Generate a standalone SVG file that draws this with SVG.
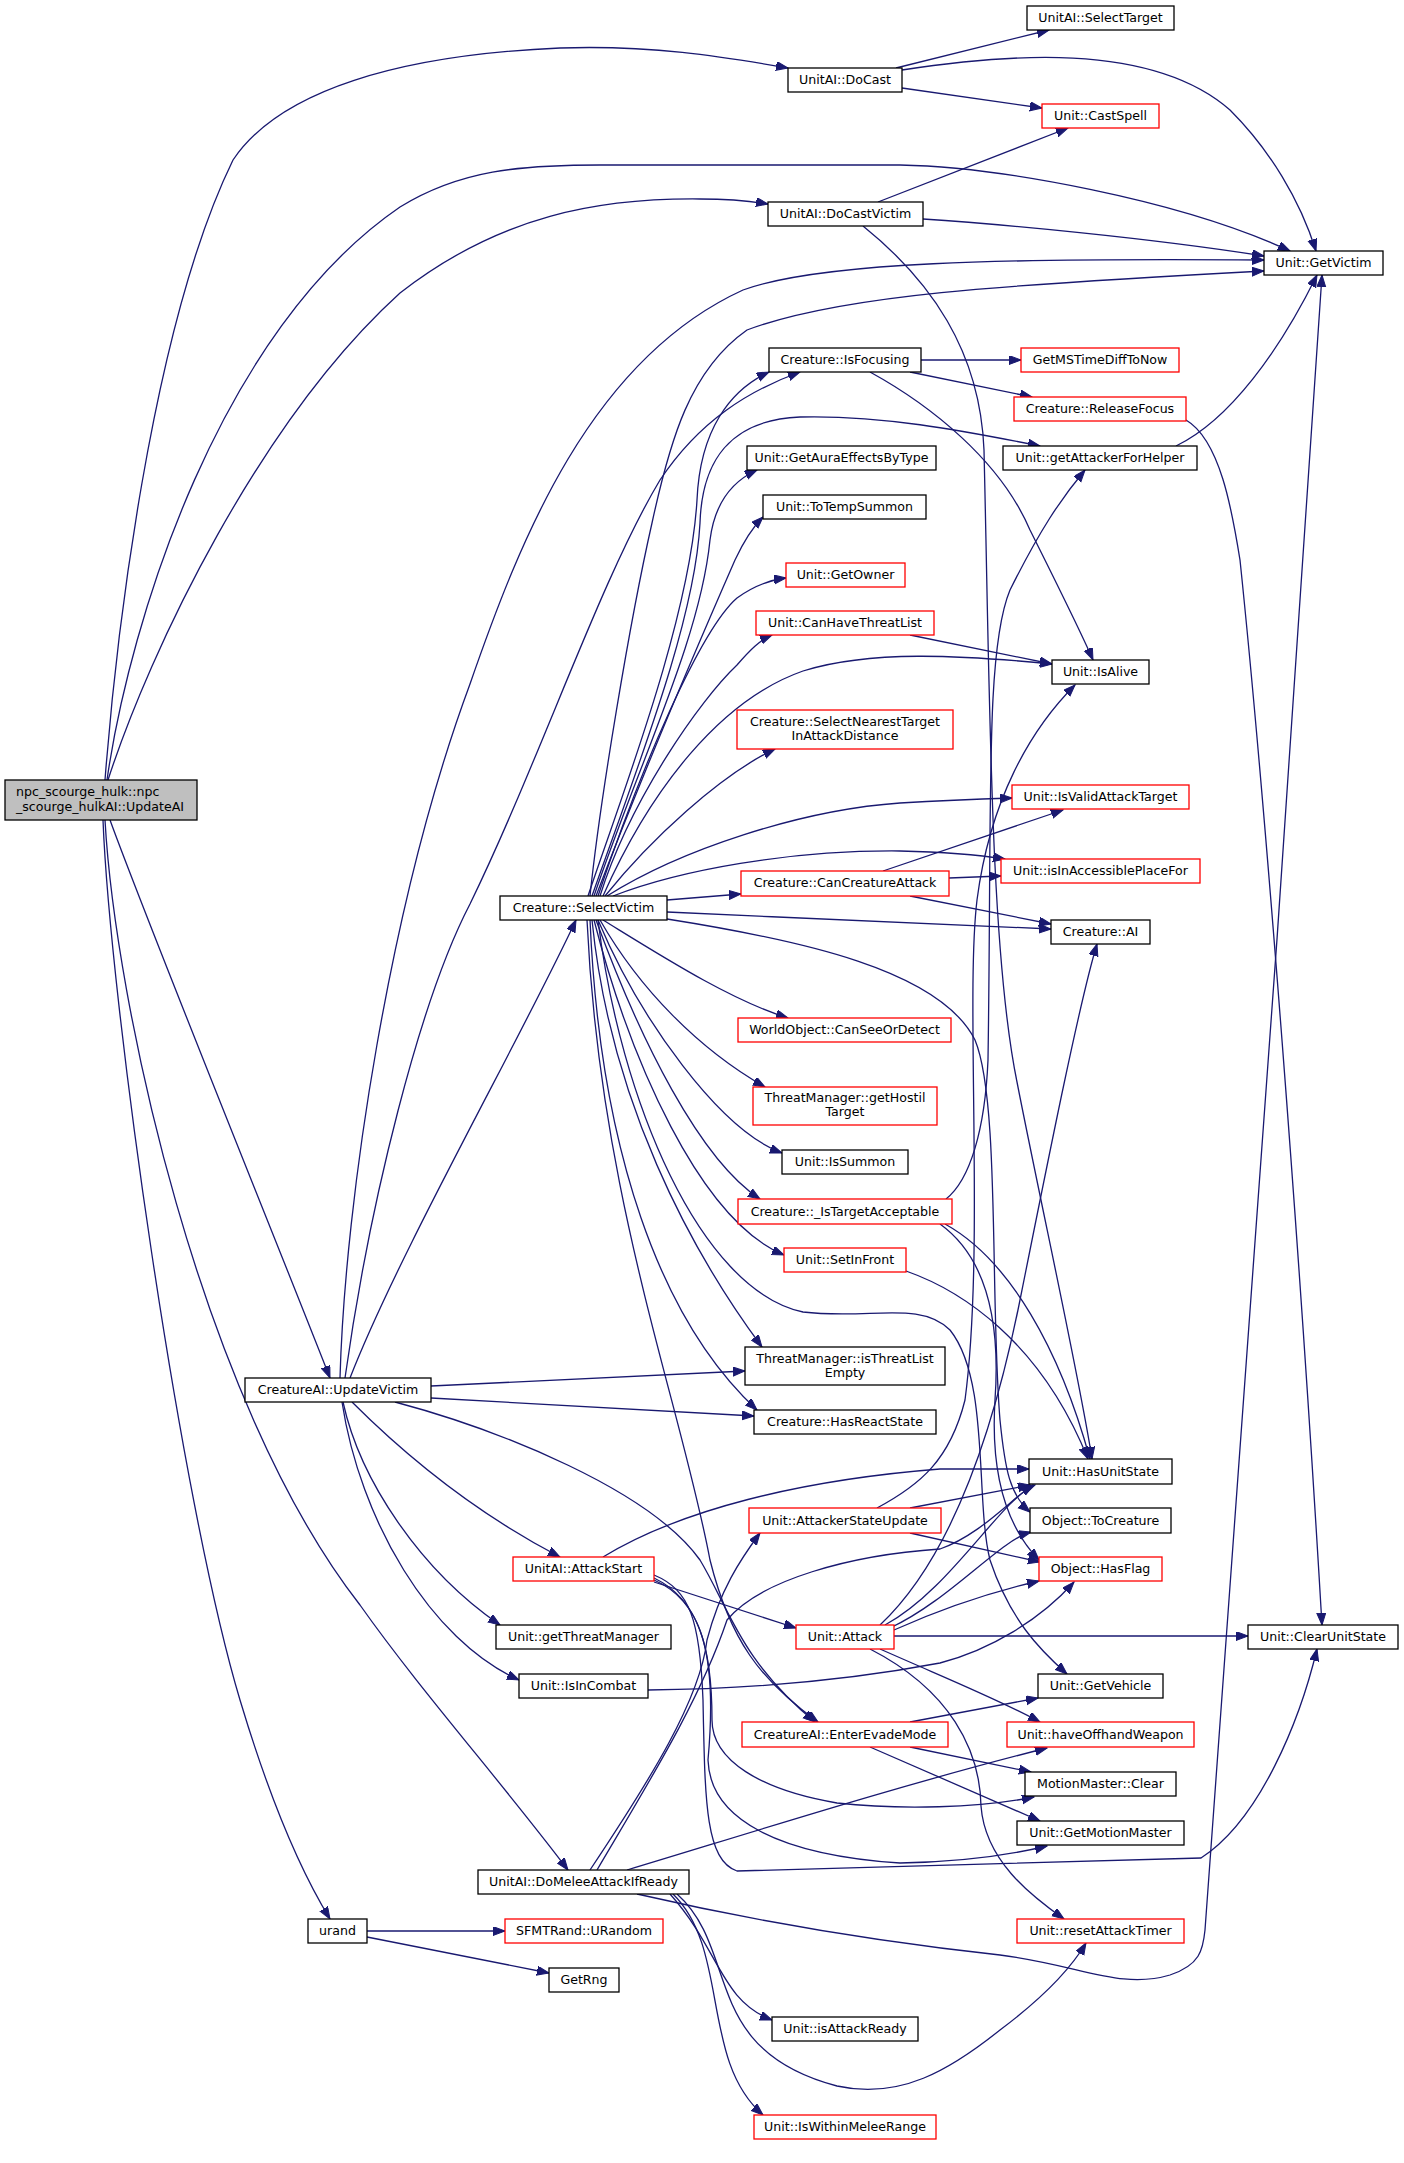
<svg xmlns="http://www.w3.org/2000/svg" width="1404" height="2163" viewBox="0 0 1404 2163">
<style>
.n rect{fill:#fff;stroke:#000;stroke-width:1.3}
.n.r rect{stroke:#ff0000}
.n text{font-family:"DejaVu Sans","Liberation Sans",sans-serif;font-size:12.6px;text-anchor:middle;fill:#000}
#edges path{fill:none;stroke:#191970;stroke-width:1.3;marker-end:url(#ah)}
</style>
<defs>
<marker id="ah" markerWidth="13" markerHeight="10" refX="12" refY="4.5" orient="auto" markerUnits="userSpaceOnUse"><path d="M0,0 L12,4.5 L0,9 z" fill="#191970" stroke="#191970" stroke-width="1"/></marker>
</defs>
<rect width="1404" height="2163" fill="#fff"/>
<g id="edges">
<path d="M105,780 C115,650 150,330 233,160 C280,90 400,55 560,48 C650,45 720,56 788,68"/>
<path d="M107,780 C130,620 220,330 400,207 C460,170 520,165 600,165 L900,165 C1000,167 1180,200 1290,251"/>
<path d="M108,780 C150,650 260,420 400,293 C500,215 600,198 700,199 C730,199 750,201 768,204"/>
<path d="M110,820 C150,930 280,1250 330,1378"/>
<path d="M105,820 C115,1000 200,1400 360,1605 C420,1690 500,1780 568,1870"/>
<path d="M103,820 C110,1000 180,1500 240,1700 C270,1800 300,1870 330,1919"/>
<path d="M896,68 L1049,30"/>
<path d="M902,70 C1000,55 1150,40 1230,110 C1270,150 1300,200 1316,251"/>
<path d="M902,88 L1042,108"/>
<path d="M878,202 L1068,128"/>
<path d="M923,219 C1000,224 1150,238 1264,256"/>
<path d="M863,226 C930,280 980,350 984,450 C990,700 990,950 1017,1082 C1040,1200 1080,1380 1092,1459"/>
<path d="M921,360 L1021,360"/>
<path d="M910,372 C950,380 990,388 1032,397"/>
<path d="M870,372 C930,405 1000,460 1030,530 C1055,580 1080,630 1093,660"/>
<path d="M1186,420 C1220,440 1232,510 1240,560 C1265,800 1300,1250 1322,1625"/>
<path d="M1176,446 C1230,420 1280,350 1317,275"/>
<path d="M340,1378 C345,1200 390,900 470,684 C520,540 590,360 743,290 C820,262 1000,258 1264,260"/>
<path d="M345,1378 C370,1200 420,1000 470,904 C540,760 600,580 660,480 C700,420 750,390 800,372"/>
<path d="M350,1378 C400,1250 520,1040 576,920"/>
<path d="M431,1386 L745,1371"/>
<path d="M431,1398 L754,1416"/>
<path d="M352,1402 C400,1450 470,1510 560,1557"/>
<path d="M343,1402 C360,1480 420,1570 500,1625"/>
<path d="M342,1402 C360,1520 430,1640 519,1680"/>
<path d="M395,1402 C500,1430 650,1490 700,1560 C730,1610 740,1660 815,1722"/>
<path d="M588,896 C620,800 690,620 697,500 C700,430 730,390 769,372"/>
<path d="M590,896 C600,800 630,620 652,523 C670,440 690,370 747,330 C840,295 1000,285 1264,271"/>
<path d="M592,896 C640,760 695,620 700,523 C702,460 730,420 800,417 C880,415 960,430 1040,446"/>
<path d="M594,896 C640,760 700,640 710,540 C715,500 735,480 757,470"/>
<path d="M596,896 C640,780 700,640 735,560 C742,545 750,530 763,517"/>
<path d="M598,896 C640,770 700,630 737,598 C755,585 770,580 786,578"/>
<path d="M600,896 C630,800 700,700 737,665 C750,650 760,640 772,635"/>
<path d="M603,896 C650,790 720,700 803,671 C870,650 960,655 1052,664"/>
<path d="M910,635 L1052,664"/>
<path d="M605,896 C650,840 720,775 775,749"/>
<path d="M607,896 C680,850 800,810 900,803 C950,800 980,799 1012,798"/>
<path d="M613,896 C680,870 790,850 900,851 C950,852 980,855 1005,859"/>
<path d="M883,871 L1063,810"/>
<path d="M949,878 L1001,876"/>
<path d="M910,896 L1051,924"/>
<path d="M667,900 L741,894"/>
<path d="M667,912 C800,918 950,925 1051,929"/>
<path d="M667,919 C800,940 940,970 975,1040 C1000,1100 990,1300 1000,1420 C1005,1470 1010,1495 1030,1512"/>
<path d="M603,920 C660,955 730,1000 788,1018"/>
<path d="M600,920 C640,990 700,1050 765,1087"/>
<path d="M598,920 C640,1020 720,1130 782,1153"/>
<path d="M596,920 C640,1040 700,1160 760,1199"/>
<path d="M594,920 C630,1060 700,1220 784,1255"/>
<path d="M592,920 C610,1100 690,1250 762,1347"/>
<path d="M590,920 C600,1150 660,1320 757,1410"/>
<path d="M587,920 C600,1200 680,1400 710,1560 C730,1640 760,1680 818,1722"/>
<path d="M598,920 C620,1100 700,1290 803,1312 C870,1320 920,1300 950,1330 C990,1380 975,1500 990,1560 C1010,1620 1040,1650 1067,1674"/>
<path d="M946,1199 C970,1180 985,1130 988,1060 C992,800 985,650 1010,590 C1040,530 1060,500 1085,470"/>
<path d="M945,1224 C1010,1260 1060,1350 1090,1459"/>
<path d="M940,1224 C990,1260 1000,1330 995,1400 C990,1480 1010,1530 1039,1560"/>
<path d="M906,1271 C960,1290 1040,1340 1088,1459"/>
<path d="M877,1508 C920,1485 950,1460 965,1400 C985,1250 965,1000 977,900 C990,800 1030,730 1075,685"/>
<path d="M910,1508 L1030,1485"/>
<path d="M910,1533 L1040,1562"/>
<path d="M603,1557 C680,1510 800,1480 940,1469 L1029,1469"/>
<path d="M654,1582 L796,1628"/>
<path d="M654,1575 C690,1590 700,1620 703,1700 C705,1800 705,1860 737,1871 L1201,1858 C1260,1820 1300,1720 1317,1649"/>
<path d="M654,1578 C700,1600 712,1650 712,1720 C712,1760 760,1790 837,1803 C900,1810 980,1808 1034,1797"/>
<path d="M654,1580 C700,1600 718,1650 708,1760 C710,1820 780,1855 900,1863 C960,1862 1010,1855 1047,1846"/>
<path d="M885,1625 C950,1590 1000,1500 1035,1485"/>
<path d="M890,1628 C950,1600 1000,1540 1031,1532"/>
<path d="M894,1630 C950,1605 1000,1590 1039,1581"/>
<path d="M894,1636 L1248,1636"/>
<path d="M880,1625 C960,1550 1000,1400 1020,1300 C1050,1150 1080,1000 1097,944"/>
<path d="M880,1649 C950,1680 1000,1700 1040,1722"/>
<path d="M870,1649 C950,1690 980,1750 981,1806 C985,1860 1030,1895 1064,1919"/>
<path d="M648,1690 C750,1689 850,1680 940,1663 C990,1650 1040,1620 1074,1582"/>
<path d="M910,1722 L1038,1698"/>
<path d="M910,1747 L1031,1772"/>
<path d="M870,1747 L1040,1821"/>
<path d="M590,1870 C650,1780 700,1700 707,1640 C720,1590 740,1560 760,1533"/>
<path d="M597,1870 C650,1780 700,1700 727,1620 C760,1580 850,1555 940,1549 C980,1535 1010,1500 1033,1485"/>
<path d="M627,1870 C750,1833 900,1785 1047,1748"/>
<path d="M637,1894 C750,1920 880,1942 1000,1955 C1080,1965 1120,1990 1170,1975 C1200,1965 1203,1950 1205,1930 C1220,1700 1290,800 1322,275"/>
<path d="M670,1894 C720,1950 720,2000 772,2020"/>
<path d="M673,1894 C730,1950 700,2060 763,2115"/>
<path d="M677,1894 C740,1950 700,2050 837,2086 C900,2100 950,2070 1000,2030 C1040,2000 1070,1970 1086,1943"/>
<path d="M367,1931 L505,1931"/>
<path d="M367,1937 L549,1973"/>
</g>
<g id="n_updateai" class="n"><rect x="5" y="780" width="192" height="40" style="fill:#bfbfbf"/><text x="16" y="796" style="text-anchor:start">npc_scourge_hulk::npc</text><text x="16" y="811" style="text-anchor:start">_scourge_hulkAI::UpdateAI</text></g>
<g id="n_docast" class="n"><rect x="788" y="68" width="114" height="24"/><text x="845" y="84">UnitAI::DoCast</text></g>
<g id="n_selecttarget" class="n"><rect x="1027" y="6" width="147" height="24"/><text x="1100.5" y="22">UnitAI::SelectTarget</text></g>
<g id="n_castspell" class="n r"><rect x="1042" y="104" width="117" height="24"/><text x="1100.5" y="120">Unit::CastSpell</text></g>
<g id="n_getvictim" class="n"><rect x="1264" y="251" width="119" height="24"/><text x="1323.5" y="267">Unit::GetVictim</text></g>
<g id="n_docastvictim" class="n"><rect x="768" y="202" width="155" height="24"/><text x="845.5" y="218">UnitAI::DoCastVictim</text></g>
<g id="n_isfocusing" class="n"><rect x="769" y="348" width="152" height="24"/><text x="845" y="364">Creature::IsFocusing</text></g>
<g id="n_getmstime" class="n r"><rect x="1021" y="348" width="158" height="24"/><text x="1100" y="364">GetMSTimeDiffToNow</text></g>
<g id="n_releasefocus" class="n r"><rect x="1014" y="397" width="172" height="24"/><text x="1100" y="413">Creature::ReleaseFocus</text></g>
<g id="n_getattackerforhelper" class="n"><rect x="1003" y="446" width="194" height="24"/><text x="1100" y="462">Unit::getAttackerForHelper</text></g>
<g id="n_getauraeffects" class="n"><rect x="747" y="446" width="189" height="24"/><text x="841.5" y="462">Unit::GetAuraEffectsByType</text></g>
<g id="n_totempsummon" class="n"><rect x="763" y="495" width="163" height="24"/><text x="844.5" y="511">Unit::ToTempSummon</text></g>
<g id="n_getowner" class="n r"><rect x="786" y="563" width="119" height="24"/><text x="845.5" y="579">Unit::GetOwner</text></g>
<g id="n_canhavethreatlist" class="n r"><rect x="756" y="611" width="178" height="24"/><text x="845" y="627">Unit::CanHaveThreatList</text></g>
<g id="n_isalive" class="n"><rect x="1052" y="660" width="97" height="24"/><text x="1100.5" y="676">Unit::IsAlive</text></g>
<g id="n_selectnearest" class="n r"><rect x="737" y="710" width="216" height="39"/><text x="845" y="725.5">Creature::SelectNearestTarget</text><text x="845" y="740">InAttackDistance</text></g>
<g id="n_isvalidattacktarget" class="n r"><rect x="1012" y="785" width="177" height="24"/><text x="1100.5" y="801">Unit::IsValidAttackTarget</text></g>
<g id="n_isinaccessible" class="n r"><rect x="1001" y="859" width="199" height="24"/><text x="1100.5" y="875">Unit::isInAccessiblePlaceFor</text></g>
<g id="n_cancreatureattack" class="n r"><rect x="741" y="871" width="208" height="25"/><text x="845" y="887">Creature::CanCreatureAttack</text></g>
<g id="n_selectvictim" class="n"><rect x="500" y="896" width="167" height="24"/><text x="583.5" y="912">Creature::SelectVictim</text></g>
<g id="n_creatureai" class="n"><rect x="1051" y="920" width="99" height="24"/><text x="1100.5" y="936">Creature::AI</text></g>
<g id="n_canseeordetect" class="n r"><rect x="738" y="1018" width="213" height="24"/><text x="844.5" y="1034">WorldObject::CanSeeOrDetect</text></g>
<g id="n_gethostiltarget" class="n r"><rect x="753" y="1087" width="184" height="38"/><text x="845" y="1102">ThreatManager::getHostil</text><text x="845" y="1116">Target</text></g>
<g id="n_issummon" class="n"><rect x="782" y="1150" width="126" height="24"/><text x="845" y="1166">Unit::IsSummon</text></g>
<g id="n_istargetacceptable" class="n r"><rect x="738" y="1199" width="214" height="25"/><text x="845" y="1215.5">Creature::_IsTargetAcceptable</text></g>
<g id="n_setinfront" class="n r"><rect x="784" y="1248" width="122" height="24"/><text x="845" y="1264">Unit::SetInFront</text></g>
<g id="n_isthreatlistempty" class="n"><rect x="745" y="1347" width="200" height="38"/><text x="845" y="1362.5">ThreatManager::isThreatList</text><text x="845" y="1377">Empty</text></g>
<g id="n_hasreactstate" class="n"><rect x="754" y="1410" width="182" height="24"/><text x="845" y="1426">Creature::HasReactState</text></g>
<g id="n_updatevictim" class="n"><rect x="245" y="1378" width="186" height="24"/><text x="338" y="1394">CreatureAI::UpdateVictim</text></g>
<g id="n_hasunitstate" class="n"><rect x="1029" y="1459" width="143" height="25"/><text x="1100.5" y="1475.5">Unit::HasUnitState</text></g>
<g id="n_attackerstateupdate" class="n r"><rect x="749" y="1508" width="192" height="25"/><text x="845" y="1524.5">Unit::AttackerStateUpdate</text></g>
<g id="n_tocreature" class="n"><rect x="1030" y="1508" width="141" height="25"/><text x="1100.5" y="1524.5">Object::ToCreature</text></g>
<g id="n_attackstart" class="n r"><rect x="513" y="1557" width="141" height="24"/><text x="583.5" y="1573">UnitAI::AttackStart</text></g>
<g id="n_hasflag" class="n r"><rect x="1039" y="1557" width="123" height="24"/><text x="1100.5" y="1573">Object::HasFlag</text></g>
<g id="n_attack" class="n r"><rect x="796" y="1625" width="98" height="24"/><text x="845" y="1641">Unit::Attack</text></g>
<g id="n_clearunitstate" class="n"><rect x="1248" y="1625" width="150" height="24"/><text x="1323" y="1641">Unit::ClearUnitState</text></g>
<g id="n_getthreatmanager" class="n"><rect x="496" y="1625" width="175" height="24"/><text x="583.5" y="1641">Unit::getThreatManager</text></g>
<g id="n_isincombat" class="n"><rect x="519" y="1674" width="129" height="24"/><text x="583.5" y="1690">Unit::IsInCombat</text></g>
<g id="n_getvehicle" class="n"><rect x="1038" y="1674" width="125" height="24"/><text x="1100.5" y="1690">Unit::GetVehicle</text></g>
<g id="n_enterevademode" class="n r"><rect x="742" y="1722" width="206" height="25"/><text x="845" y="1738.5">CreatureAI::EnterEvadeMode</text></g>
<g id="n_haveoffhand" class="n r"><rect x="1007" y="1722" width="187" height="25"/><text x="1100.5" y="1738.5">Unit::haveOffhandWeapon</text></g>
<g id="n_motionmasterclear" class="n"><rect x="1025" y="1772" width="151" height="24"/><text x="1100.5" y="1788">MotionMaster::Clear</text></g>
<g id="n_getmotionmaster" class="n"><rect x="1017" y="1821" width="167" height="24"/><text x="1100.5" y="1837">Unit::GetMotionMaster</text></g>
<g id="n_domelee" class="n"><rect x="478" y="1870" width="211" height="24"/><text x="583.5" y="1886">UnitAI::DoMeleeAttackIfReady</text></g>
<g id="n_urand" class="n"><rect x="308" y="1919" width="59" height="24"/><text x="337.5" y="1935">urand</text></g>
<g id="n_urandom" class="n r"><rect x="505" y="1919" width="158" height="24"/><text x="584" y="1935">SFMTRand::URandom</text></g>
<g id="n_resetattacktimer" class="n r"><rect x="1017" y="1919" width="167" height="24"/><text x="1100.5" y="1935">Unit::resetAttackTimer</text></g>
<g id="n_getrng" class="n"><rect x="549" y="1968" width="70" height="24"/><text x="584" y="1984">GetRng</text></g>
<g id="n_isattackready" class="n"><rect x="772" y="2017" width="146" height="24"/><text x="845" y="2033">Unit::isAttackReady</text></g>
<g id="n_iswithinmeleerange" class="n r"><rect x="754" y="2115" width="182" height="24"/><text x="845" y="2131">Unit::IsWithinMeleeRange</text></g>
</svg>
